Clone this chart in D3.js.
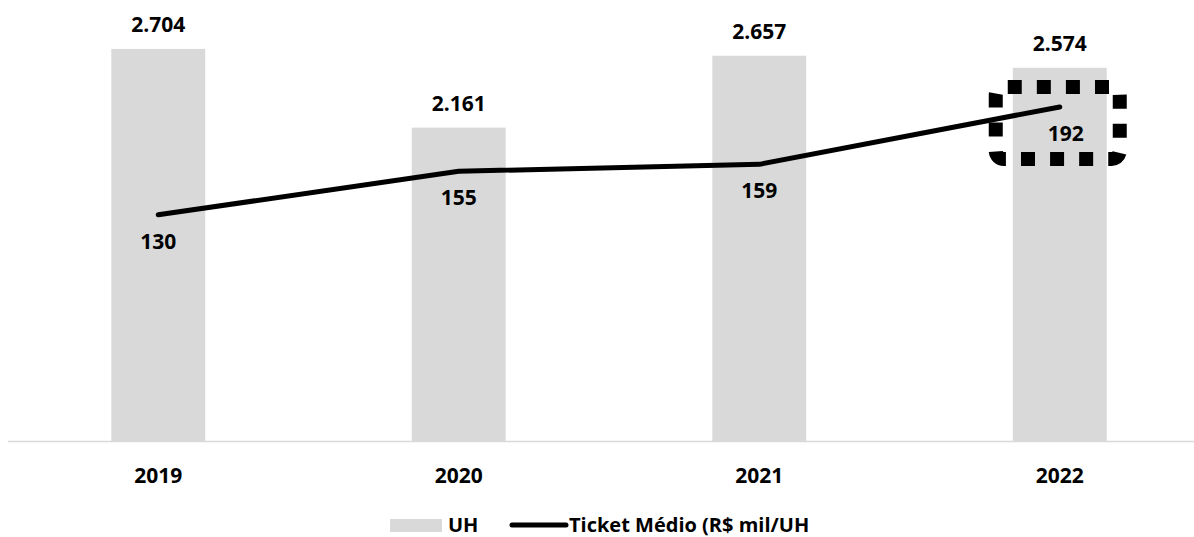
<!DOCTYPE html>
<html>
<head>
<meta charset="utf-8">
<script src="https://cdn.jsdelivr.net/npm/d3@7"></script>
<style>
  html, body { margin: 0; padding: 0; background: #fff; }
  svg { display: block; font-family: "Open Sans", Lato, sans-serif; font-weight: 700; }
</style>
</head>
<body>
<svg id="chart" width="1194" height="537"></svg>
<script>
// Units sold (UH) and average ticket (R$ thousand per unit) per year
const years = ["2019", "2020", "2021", "2022"];
const unitsSold = [2704, 2161, 2657, 2574];
const avgTicket = [130, 155, 159, 192];
const unitsLabels = ["2.704", "2.161", "2.657", "2.574"];
const legendLabels = ["UH", "Ticket Médio (R$ mil/UH"];

const svg = d3.select("#chart");
const plot = { left: 8, right: 1210, top: 6, bottom: 441 };
const labelFont = 21;
const legendFont = 20;

const x = d3.scaleBand()
  .domain(years)
  .range([plot.left, plot.right])
  .paddingInner(0.6875)
  .paddingOuter(0.34375);

const yBars = d3.scaleLinear().domain([0, 3000]).range([plot.bottom, plot.top]);
const yLine = d3.scaleLinear().domain([0, 250]).range([plot.bottom, plot.top]);

const cx = d => x(d) + x.bandwidth() / 2;

// bars
svg.append("g").selectAll("rect")
  .data(years)
  .join("rect")
  .attr("x", d => x(d))
  .attr("width", x.bandwidth())
  .attr("y", (d, i) => yBars(unitsSold[i]))
  .attr("height", (d, i) => yBars(0) - yBars(unitsSold[i]))
  .attr("fill", "#d9d9d9");

// category axis
const axis = svg.append("g")
  .attr("transform", `translate(0,${plot.bottom + 0.5})`)
  .call(d3.axisBottom(x).tickSize(0).tickPadding(27));
axis.select(".domain").attr("stroke", "#d9d9d9").attr("stroke-width", 1.5)
  .attr("d", `M${plot.left},0H1194`);
axis.selectAll("text")
  .attr("font-family", "'Open Sans', sans-serif")
  .attr("font-weight", 700)
  .attr("font-size", labelFont)
  .attr("fill", "#000");

// bar value labels
svg.append("g").selectAll("text")
  .data(years)
  .join("text")
  .attr("x", d => cx(d))
  .attr("y", (d, i) => yBars(unitsSold[i]) - 17)
  .attr("text-anchor", "middle")
  .attr("font-size", labelFont)
  .text((d, i) => unitsLabels[i]);

// ticket line
const line = d3.line()
  .x((d, i) => cx(years[i]))
  .y(d => yLine(d));

svg.append("path")
  .datum(avgTicket)
  .attr("d", line)
  .attr("fill", "none")
  .attr("stroke", "#000")
  .attr("stroke-width", 5)
  .attr("stroke-linecap", "round")
  .attr("stroke-linejoin", "round");

// ticket value labels
svg.append("g").selectAll("text")
  .data(avgTicket)
  .join("text")
  .attr("x", (d, i) => cx(years[i]) + (i === 3 ? 6 : 0))
  .attr("y", d => yLine(d) + 34)
  .attr("text-anchor", "middle")
  .attr("font-size", labelFont)
  .text(d => d);

// dotted highlight around the latest ticket value
const lastX = cx(years[3]);
const lastY = yLine(avgTicket[3]);
svg.append("rect")
  .attr("x", lastX - 64)
  .attr("y", lastY - 20)
  .attr("width", 124)
  .attr("height", 72)
  .attr("rx", 8)
  .attr("fill", "none")
  .attr("stroke", "#000")
  .attr("stroke-width", 14)
  .attr("stroke-dasharray", "14 15.08")
  .attr("stroke-dashoffset", -4);

// legend
const legend = svg.append("g");
legend.append("rect")
  .attr("x", 390).attr("y", 519).attr("width", 52).attr("height", 13)
  .attr("fill", "#d9d9d9");
legend.append("text")
  .attr("x", 448).attr("y", 532)
  .attr("font-size", legendFont)
  .text(legendLabels[0]);
legend.append("line")
  .attr("x1", 512).attr("x2", 566).attr("y1", 525).attr("y2", 525)
  .attr("stroke", "#000").attr("stroke-width", 5).attr("stroke-linecap", "round");
legend.append("text")
  .attr("x", 569).attr("y", 532)
  .attr("font-size", legendFont)
  .text(legendLabels[1]);
</script>
</body>
</html>
